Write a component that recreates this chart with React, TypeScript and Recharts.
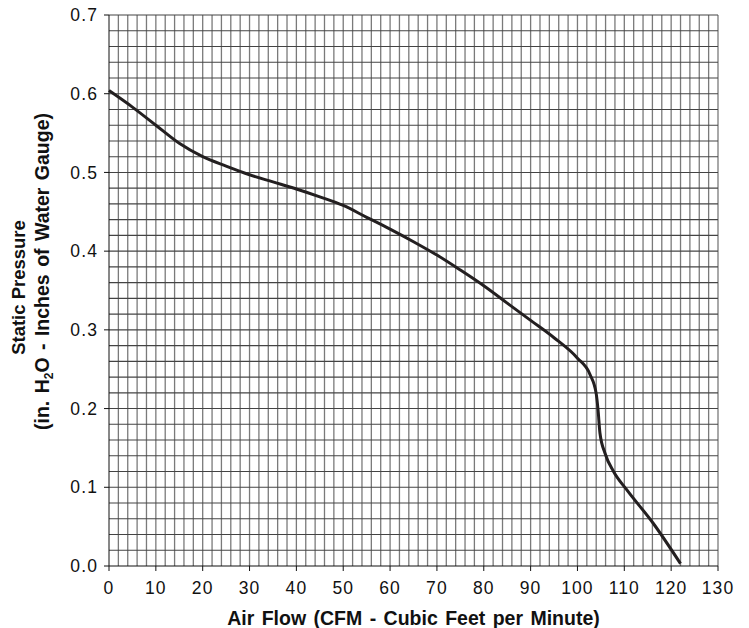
import { LineChart, Line, XAxis, YAxis, ReferenceLine } from 'recharts'

// Air flow (CFM) vs static pressure (in. H2O)
const airFlow = [
  0, 5, 10, 15, 20, 25, 30, 35, 40, 45, 50, 55, 60, 65, 70, 75, 80, 85, 90, 95, 100, 102.7, 104, 104.4, 104.8,
  105.9, 107.7, 110.5, 116.2, 122,
]
const pressure = [
  0.604, 0.583, 0.56, 0.537, 0.52, 0.508, 0.497, 0.488, 0.479, 0.469, 0.458, 0.443, 0.428, 0.412, 0.395, 0.376,
  0.356, 0.334, 0.312, 0.29, 0.264, 0.243, 0.219, 0.198, 0.169, 0.143, 0.12, 0.097, 0.054, 0.003,
]

const xTicks = [0, 10, 20, 30, 40, 50, 60, 70, 80, 90, 100, 110, 120, 130]
const yTicks = [0, 0.1, 0.2, 0.3, 0.4, 0.5, 0.6, 0.7]

// minor grid: every 2 CFM and every 0.02 in.
const gridX = Array.from({ length: 65 }, (_, i) => (i + 1) * 2)
const gridY = Array.from({ length: 35 }, (_, i) => Math.round((i + 1) * 2) / 100)

const data = airFlow.map((x, i) => ({ x, p: pressure[i] }))

const FONT = '"Liberation Sans", Arial, Helvetica, sans-serif'

function YTitle({ viewBox }: any) {
  const cy = viewBox.y + viewBox.height / 2
  return (
    <g>
      <text
        x={25}
        y={cy - 3}
        fontFamily={FONT}
        fontWeight={700}
        fontSize={18.5}
        fill="#111"
        textAnchor="middle"
        transform={`rotate(-90 25 ${cy - 3})`}
      >
        Static Pressure
      </text>
      <text
        x={49}
        y={cy - 19}
        fontFamily={FONT}
        fontWeight={700}
        fontSize={19.5}
        fill="#111"
        textAnchor="middle"
        style={{ wordSpacing: 2 }}
        transform={`rotate(-90 49 ${cy - 19})`}
      >
        (in. H<tspan fontSize={12} dy={4}>2</tspan>
        <tspan dy={-4}>O - Inches of Water Gauge)</tspan>
      </text>
    </g>
  )
}

function XTitle({ viewBox }: any) {
  return (
    <text
      x={viewBox.x + viewBox.width / 2}
      y={viewBox.y + 59}
      textAnchor="middle"
      fontFamily={FONT}
      fontWeight={700}
      fontSize={19.5}
      fill="#111"
      style={{ wordSpacing: 2 }}
    >
      Air Flow (CFM - Cubic Feet per Minute)
    </text>
  )
}

export default function App() {
  return (
    <div style={{ position: 'absolute', left: 0, top: 0, width: 749, height: 628, background: '#fff' }}>
      <LineChart width={749} height={628} data={data} margin={{ top: 15, right: 31, left: 0, bottom: 0 }}>
        {gridX.map((v) => (
          <ReferenceLine key={'gx' + v} x={v} stroke="#7a7a7a" strokeWidth={1.3} />
        ))}
        {gridY.map((v) => (
          <ReferenceLine key={'gy' + v} y={v} stroke="#444" strokeWidth={1.1} />
        ))}
        <XAxis
          dataKey="x"
          type="number"
          domain={[0, 130]}
          ticks={xTicks}
          interval={0}
          height={62}
          stroke="#111"
          tickSize={5}
          tickMargin={11}
          tick={{ fill: '#111', fontSize: 17.5, fontFamily: FONT, letterSpacing: 1.1 }}
          label={<XTitle />}
        />
        <YAxis
          type="number"
          domain={[0, 0.7]}
          ticks={yTicks}
          interval={0}
          width={109}
          stroke="#111"
          tickSize={5}
          tickMargin={6}
          tickFormatter={(v: number) => v.toFixed(1)}
          tick={{ fill: '#111', fontSize: 17.5, fontFamily: FONT, letterSpacing: 1.1 }}
          label={<YTitle />}
        />
        <Line
          type="monotone"
          dataKey="p"
          stroke="#231f20"
          strokeWidth={3}
          dot={false}
          isAnimationActive={false}
        />
      </LineChart>
    </div>
  )
}
